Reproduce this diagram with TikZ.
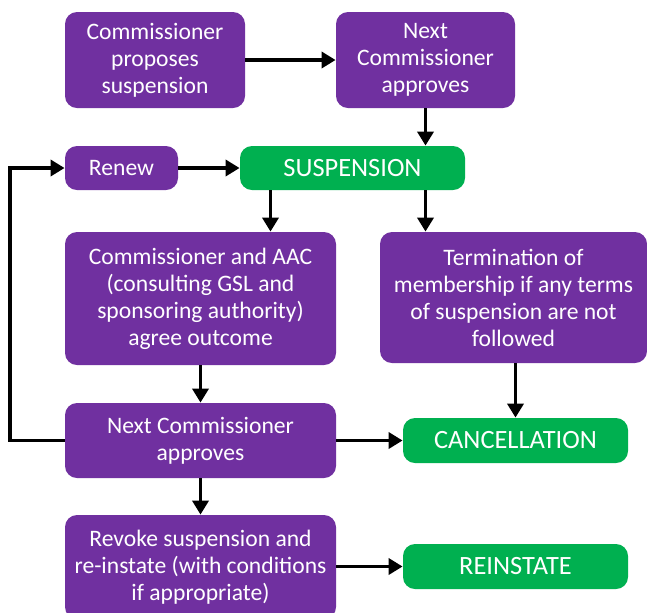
\documentclass[tikz,border=0pt]{standalone}
\usepackage{fontspec}
\setmainfont{Carlito}
\usetikzlibrary{arrows.meta}
\definecolor{boxpurple}{HTML}{7030A0}
\definecolor{boxgreen}{HTML}{00B050}
\tikzset{
  stage/.style={rounded corners=6pt, text=white, align=center, inner sep=0pt,
    font=\fontsize{11.8}{13.5}\selectfont},
  purplebox/.style={stage, fill=boxpurple},
  greenbox/.style={stage, fill=boxgreen, minimum width=112.5pt, minimum height=22.5pt,
    font=\fontsize{13.2}{15}\selectfont},
  link/.style={line width=1.9pt, -{Triangle[length=7pt,width=8pt]}}
}

\begin{document}
\begin{tikzpicture}[x=0.5pt,y=-0.5pt]
    \useasboundingbox (0,0) rectangle (647,612);
    % top row
    \node[purplebox,minimum width=90pt,minimum height=48pt] (propose) at (155,60)
    {Commissioner\\proposes\\suspension};
    \node[purplebox,minimum width=89.5pt,minimum height=48pt] (approve) at (425.5,60)
    {Next\\Commissioner\\approves};
    \node[purplebox,minimum width=56.5pt,minimum height=22pt] (renew) at (121.5,168) {Renew};
    \node[greenbox,minimum height=22pt] (suspension) at (352.5,168) {SUSPENSION};
    % middle
    \node[purplebox,minimum width=135.5pt,minimum height=66.5pt] (outcome) at (200.5,298.5)
    {Commissioner and AAC\\(consulting GSL and\\sponsoring authority)\\agree outcome};
    \node[purplebox,minimum width=133.5pt,minimum height=65.5pt] (termination) at (513.5,297.5)
    {Termination of\\membership if any terms\\of suspension are not\\followed};
    \node[purplebox,minimum width=135.5pt,minimum height=37.5pt] (approve2) at (200.5,440.5)
    {Next Commissioner\\approves};
    \node[greenbox] (cancel) at (515.5,440.5) {CANCELLATION};
    % bottom
    \node[purplebox,minimum width=135.5pt,minimum height=52pt] (revoke) at (200.5,567)
    {Revoke suspension and\\re-instate (with conditions\\if appropriate)};
    \node[greenbox] (reinstate) at (515.5,566.5) {REINSTATE};
    % connectors
    \draw[link] (propose) -- (approve);
    \draw[link] (approve.south) -- (approve.south |- suspension.north);
    \draw[link] (renew) -- (suspension);
    \draw[link] ([xshift=-41pt]suspension.south) -- ([xshift=-41pt]suspension.south |- outcome.north);
    \draw[link] (approve.south |- suspension.south) -- (approve.south |- termination.north);
    \draw[link] (outcome) -- (approve2);
    \draw[link] (approve2.west) -- ++(-55,0) |- (renew.west);
    \draw[link] (approve2) -- (cancel);
    \draw[link] (cancel.north |- termination.south) -- (cancel.north);
    \draw[link] (approve2) -- (revoke);
    \draw[link] (revoke.east |- reinstate) -- (reinstate);
\end{tikzpicture}
\end{document}
